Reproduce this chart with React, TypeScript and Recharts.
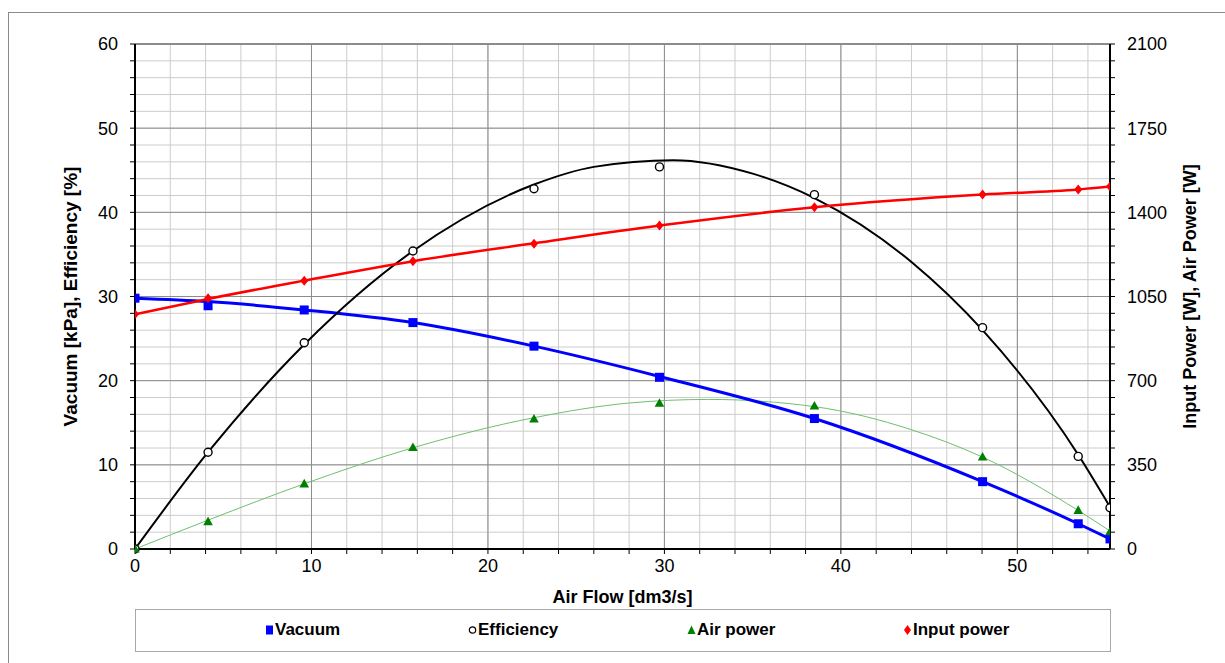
import { CartesianGrid, ComposedChart, Line, ReferenceLine, Scatter, XAxis, YAxis } from "recharts"

// measured points, air flow in dm3/s
const flow = [0, 4.14, 9.59, 15.75, 22.61, 29.72, 38.5, 48.03, 53.45, 55.25]
const vacuum = [29.8, 28.9, 28.4, 26.9, 24.1, 20.4, 15.5, 8.0, 3.0, 1.2]
const efficiency = [0, 11.5, 24.5, 35.4, 42.8, 45.4, 42.1, 26.3, 11.0, 4.9]
const airPower = [0, 114, 271, 422, 541, 606, 595, 383, 161, 72]
const inputPower = [976, 1043, 1116, 1197, 1269, 1345, 1421, 1474, 1495, 1507]

// trend lines (they don't pass exactly through the points)
const vacuumFitX = [0, 4.14, 9.59, 15.75, 22.61, 29.72, 38.5, 48.03, 53.45, 55.25]
const vacuumFit = [29.8, 29.4, 28.4, 26.9, 24.1, 20.5, 15.5, 8.0, 3.0, 1.2]
const effFitX = [0, 4.14, 9.59, 15.75, 22.61, 26, 30.5, 35, 38.5, 44, 48.03, 53.45, 55.25]
const effFit = [0, 11.5, 24.3, 35.4, 43.3, 45.4, 46.2, 44.6, 41.7, 34.1, 26.0, 11.2, 5.0]
const airFitX = [0, 4.14, 9.59, 15.75, 22.61, 28, 32.5, 38.5, 44, 48.03, 53.45, 55.25]
const airFit = [0, 120, 271, 421, 546, 607, 622, 592, 496, 382, 160, 75]
const inputFitX = flow
const inputFit = [976, 1040, 1116, 1197, 1271, 1345, 1421, 1474, 1495, 1507]

const xMajor = [10, 20, 30, 40, 50]
const leftMajor = [10, 20, 30, 40, 50]
const xMax = 55.25
const leftMax = 60
const rightMax = 2100

const steps = (max: number, step: number) => {
    const out: number[] = []
    for (let i = 0; i * step <= max + 1e-9; i++) out.push(i * step)
    return out
}

const rows = (xs: number[], ys: number[]) => xs.map((x, i) => ({ x, y: ys[i] }))
const points = flow.map((x, i) => ({
    x,
    vacuum: vacuum[i],
    efficiency: efficiency[i],
    airPower: airPower[i],
    inputPower: inputPower[i],
}))

const FONT = "'Liberation Sans', Arial, sans-serif"
const tickStyle = { fill: "#000", fontSize: 18, fontFamily: FONT }

const SquareDot = (p: any) => <rect x={p.cx - 4.5} y={p.cy - 4.5} width={9} height={9} fill="#0000ff" />
const CircleDot = (p: any) => <circle cx={p.cx} cy={p.cy} r={4} fill="#fff" stroke="#000" strokeWidth={1.4} />
const TriangleDot = (p: any) => (
    <path d={`M${p.cx},${p.cy - 5} L${p.cx + 4.8},${p.cy + 3.6} L${p.cx - 4.8},${p.cy + 3.6} Z`} fill="#008000" />
)
const DiamondDot = (p: any) => (
    <path d={`M${p.cx},${p.cy - 5} L${p.cx + 4},${p.cy} L${p.cx},${p.cy + 5} L${p.cx - 4},${p.cy} Z`} fill="#ff0000" />
)

const XTitle = ({ viewBox }: any) => (
    <text x={viewBox.x + viewBox.width / 2} y={viewBox.y + 54} textAnchor="middle" fontFamily={FONT} fontWeight="bold" fontSize={18}>
        Air Flow [dm3/s]
    </text>
)

const RotTitle = ({ viewBox, text, dx, size }: any) => {
    const cx = viewBox.x + dx
    const cy = viewBox.y + viewBox.height / 2
    return (
        <text x={cx} y={cy} transform={`rotate(-90 ${cx} ${cy})`} textAnchor="middle" dominantBaseline="central"
            fontFamily={FONT} fontWeight="bold" fontSize={size}>
            {text}
        </text>
    )
}

const legendItems = [
    { name: "Vacuum", marker: "square", left: 129 },
    { name: "Efficiency", marker: "circle", left: 332 },
    { name: "Air power", marker: "triangle", left: 551 },
    { name: "Input power", marker: "diamond", left: 767 },
]

const LegendMarker = ({ kind }: { kind: string }) => (
    <svg width={9} height={12} style={{ marginRight: 1 }}>
        {kind === "square" && <rect x={1} y={1.5} width={7} height={9} fill="#0000ff" />}
        {kind === "circle" && <circle cx={4.5} cy={6} r={3.2} fill="#fff" stroke="#000" strokeWidth={1.2} />}
        {kind === "triangle" && <path d="M4.5,1.5 L8.5,10 L0.5,10 Z" fill="#008000" />}
        {kind === "diamond" && <path d="M4.5,1 L8,6 L4.5,11 L1,6 Z" fill="#ff0000" />}
    </svg>
)

export default function App() {
    return (
        <div style={{ position: "absolute", left: 0, top: 0, width: 1225, height: 663, overflow: "hidden", background: "#fff" }}>
            <div style={{ position: "absolute", left: 8, top: 12, width: 1300, height: 700, border: "1px solid #8a8a8a" }} />
            <div style={{ position: "absolute", left: 0, top: 0 }}>
                <ComposedChart width={1225} height={663} margin={{ top: 44, right: 0, left: 0, bottom: 0 }}>
                    <CartesianGrid yAxisId="left" stroke="#cccccc" strokeWidth={1} />
                    <XAxis
                        dataKey="x"
                        type="number"
                        domain={[0, xMax]}
                        allowDataOverflow
                        ticks={steps(xMax, 2)}
                        tickFormatter={(v: number) => (v % 10 === 0 ? String(v) : "")}
                        height={114}
                        tick={tickStyle}
                        tickSize={5}
                        tickMargin={5}
                        axisLine={{ stroke: "#000", strokeWidth: 2 }}
                        tickLine={{ stroke: "#000" }}
                        label={{ content: (p: any) => <XTitle {...p} /> }}
                    />
                    <YAxis
                        yAxisId="left"
                        type="number"
                        domain={[0, leftMax]}
                        ticks={steps(leftMax, 2)}
                        tickFormatter={(v: number) => (v % 10 === 0 ? String(v) : "")}
                        width={135}
                        tick={tickStyle}
                        tickSize={5}
                        tickMargin={12}
                        axisLine={{ stroke: "#000", strokeWidth: 2 }}
                        tickLine={{ stroke: "#000" }}
                        label={{ content: (p: any) => <RotTitle {...p} text="Vacuum [kPa], Efficiency [%]" dx={70} size={19} /> }}
                    />
                    <YAxis
                        yAxisId="right"
                        orientation="right"
                        type="number"
                        domain={[0, rightMax]}
                        ticks={steps(rightMax, 70)}
                        tickFormatter={(v: number) => (v % 350 === 0 ? String(v) : "")}
                        width={115}
                        tick={tickStyle}
                        tickSize={5}
                        tickMargin={12}
                        axisLine={{ stroke: "#000", strokeWidth: 2 }}
                        tickLine={{ stroke: "#000" }}
                        label={{ content: (p: any) => <RotTitle {...p} text="Input Power [W], Air Power [W]" dx={80} size={18} /> }}
                    />

                    {xMajor.map((v) => (
                        <ReferenceLine key={`vx${v}`} x={v} yAxisId="left" stroke="#8c8c8c" strokeWidth={1} />
                    ))}
                    {leftMajor.map((v) => (
                        <ReferenceLine key={`hy${v}`} y={v} yAxisId="left" stroke="#8c8c8c" strokeWidth={1} />
                    ))}
                    <ReferenceLine y={leftMax} yAxisId="left" stroke="#8c8c8c" strokeWidth={2} />

                    <Line data={rows(airFitX, airFit)} dataKey="y" yAxisId="right" type="monotone" stroke="#6fbf6f" strokeWidth={1} dot={false} isAnimationActive={false} />
                    <Line data={rows(vacuumFitX, vacuumFit)} dataKey="y" yAxisId="left" type="monotone" stroke="#0000ff" strokeWidth={3} dot={false} isAnimationActive={false} />
                    <Line data={rows(effFitX, effFit)} dataKey="y" yAxisId="left" type="monotone" stroke="#000" strokeWidth={2} dot={false} isAnimationActive={false} />
                    <Line data={rows(inputFitX, inputFit)} dataKey="y" yAxisId="right" type="monotone" stroke="#ff0000" strokeWidth={2.5} dot={false} isAnimationActive={false} />

                    <Scatter data={points} dataKey="vacuum" yAxisId="left" shape={SquareDot} isAnimationActive={false} />
                    <Scatter data={points} dataKey="efficiency" yAxisId="left" shape={CircleDot} isAnimationActive={false} />
                    <Scatter data={points} dataKey="airPower" yAxisId="right" shape={TriangleDot} isAnimationActive={false} />
                    <Scatter data={points} dataKey="inputPower" yAxisId="right" shape={DiamondDot} isAnimationActive={false} />
                </ComposedChart>
            </div>
            <div style={{ position: "absolute", left: 135, top: 609, width: 974, height: 41, border: "1px solid #a8a8a8", fontFamily: FONT }}>
                {legendItems.map((item) => (
                    <div key={item.name} style={{ position: "absolute", left: item.left, top: 10, display: "flex", alignItems: "center", fontWeight: "bold", fontSize: 17, lineHeight: "20px" }}>
                        <LegendMarker kind={item.marker} />
                        <span>{item.name}</span>
                    </div>
                ))}
            </div>
        </div>
    )
}
